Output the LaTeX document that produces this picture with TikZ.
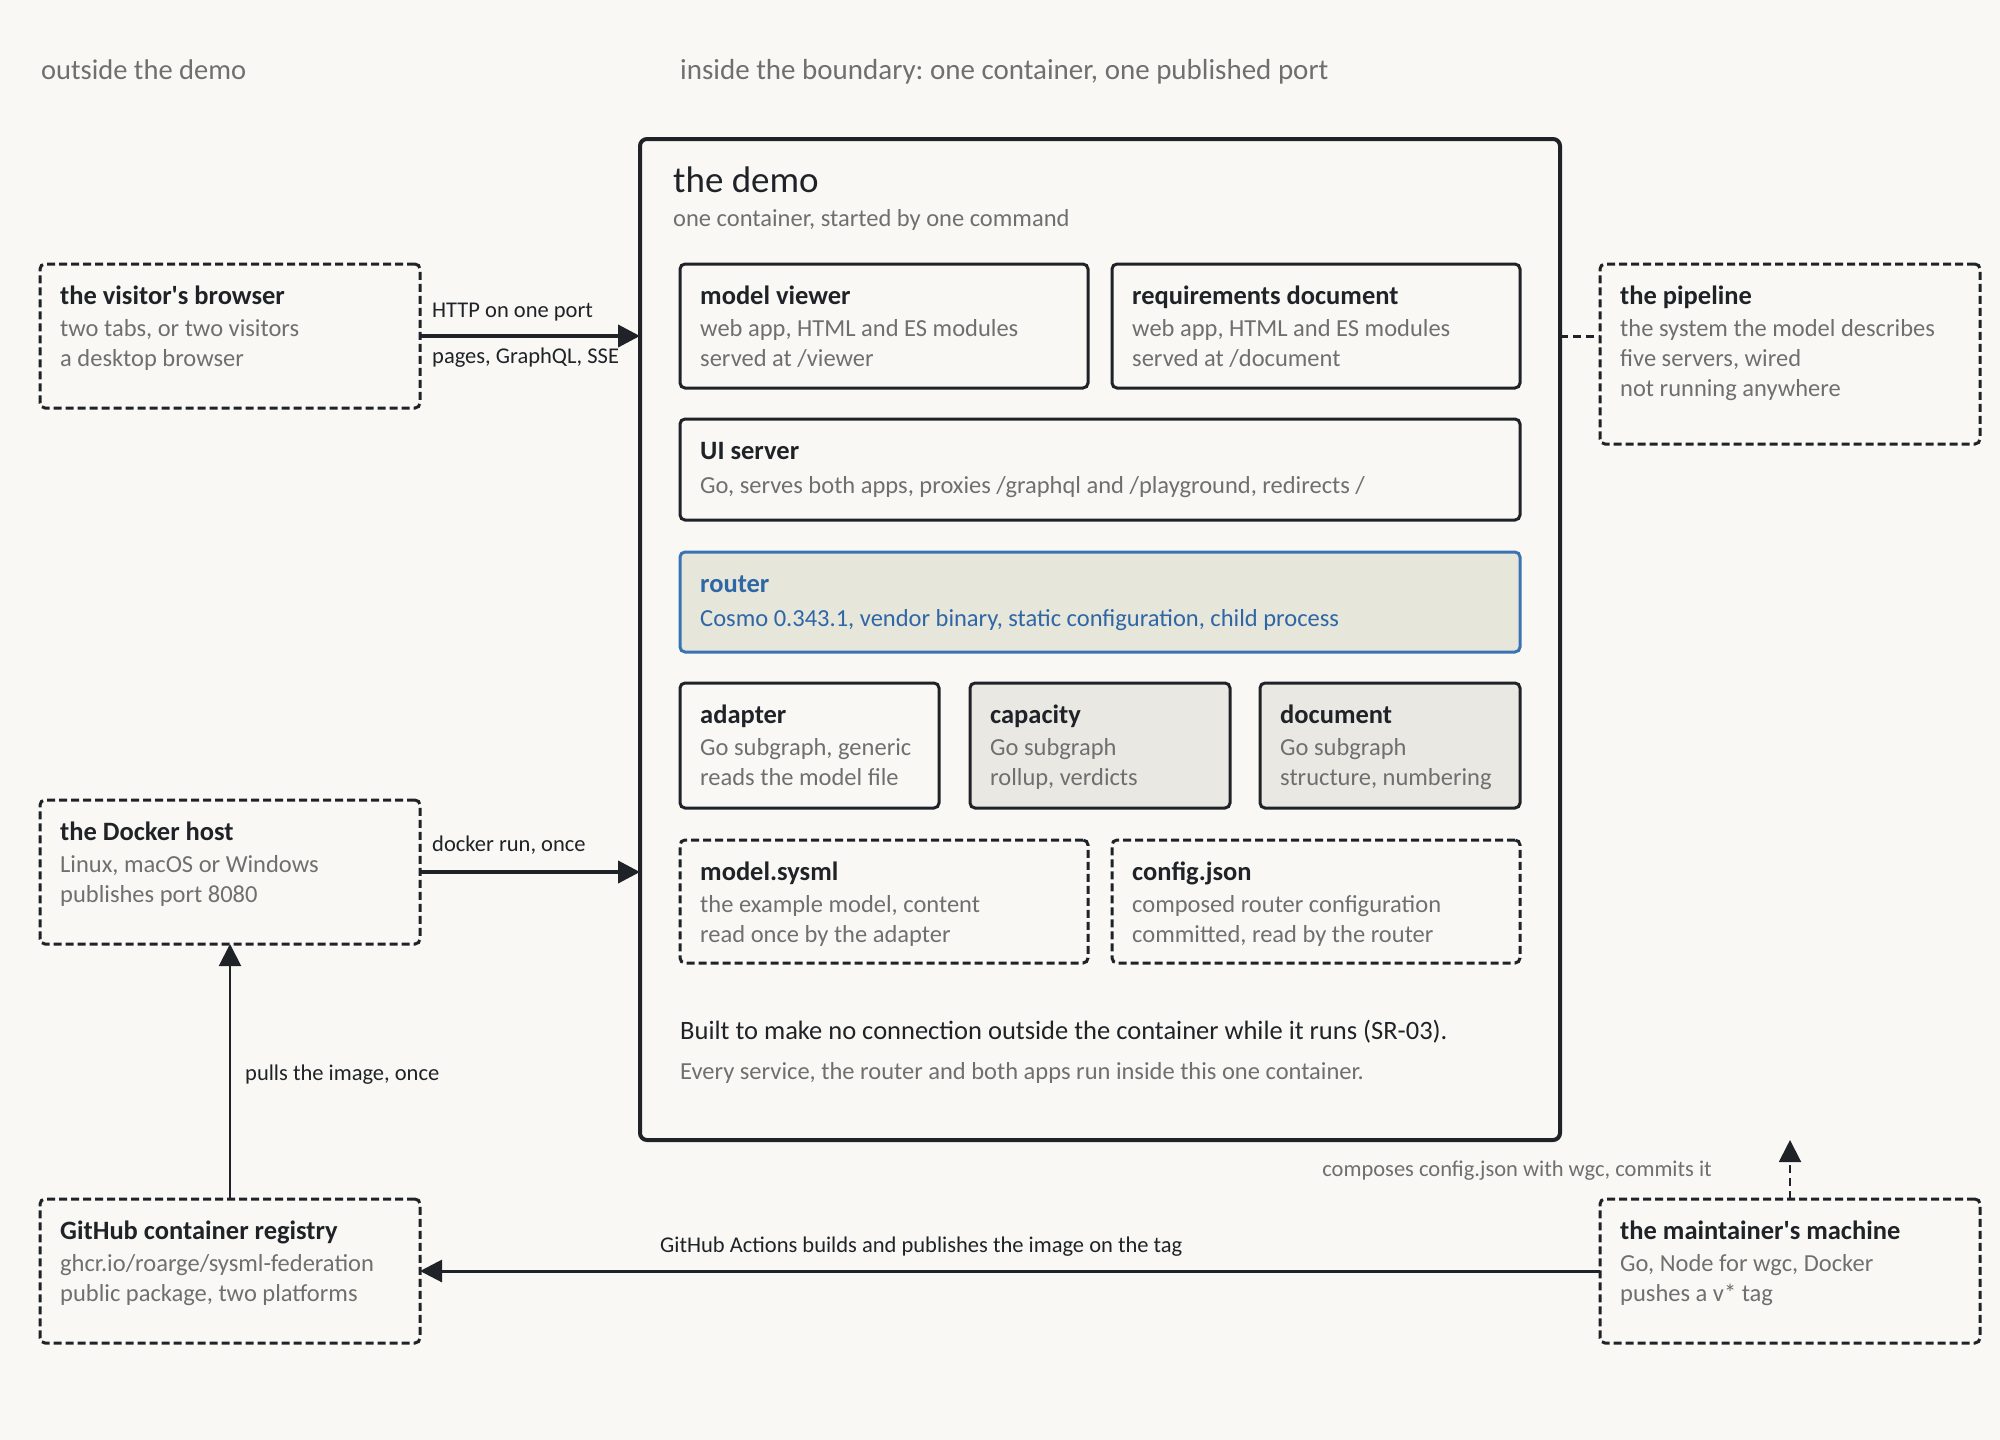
\documentclass[tikz,border=0pt]{standalone}
\usepackage{fontspec}
\setmainfont{Carlito}
\usetikzlibrary{arrows.meta,calc}
\frenchspacing
\definecolor{bg}{HTML}{F9F8F4}
\definecolor{ink}{HTML}{1F2328}
\definecolor{mute}{HTML}{6F6F6F}
\definecolor{rblue}{HTML}{3A73B3}
\definecolor{rtext}{HTML}{2E66A6}
\definecolor{rfill}{HTML}{E6E6DA}
\definecolor{gfill}{HTML}{E9E8E3}
\newcommand\mytitle[2]{\node[ttl] (#1-t) at ([shift={(20,40)}]#1.north west) {#2};}
\newcommand\myline[3]{\node[sub] (#1-#2) at ([shift={(20,#2)}]#1.north west) {#3};}
\begin{document}
\begin{tikzpicture}[x=1pt,y=-1pt,
  frame/.style={rectangle, draw=ink, line width=3pt, rounded corners=5pt, inner sep=0pt, outer sep=0pt, anchor=north west},
  dashbox/.style={frame, dash pattern=on 8pt off 4pt},
  routerbox/.style={frame, draw=rblue, fill=rfill},
  greybox/.style={frame, fill=gfill},
  demobox/.style={frame, line width=4pt, rounded corners=7pt},
  ttl/.style={anchor=base west, font=\fontsize{26.5}{30}\selectfont\bfseries, text=ink, inner sep=0pt},
  sub/.style={anchor=base west, font=\fontsize{24.5}{28}\selectfont, text=mute, inner sep=0pt},
  elab/.style={anchor=base west, font=\fontsize{22.5}{26}\selectfont, text=ink, inner sep=0pt},
  head/.style={anchor=base west, font=\fontsize{29}{34}\selectfont, text=mute, inner sep=0pt},
  arr/.style={draw=ink, line width=4pt, -{Triangle[length=22pt,width=22pt]}},
]
\fill[bg] (0,0) rectangle (2000,1440);
\useasboundingbox (0,0) rectangle (2000,1440);

% headings
\node[head, font=\fontsize{28.5}{34}\selectfont] (hout) at (41,79) {outside the demo};
\node[head] (hin) at (680,79) {inside the boundary: one container, one published port};

% demo frame
\node[demobox, minimum width=920pt, minimum height=1001pt] (demo) at (640,139) {};
\node[anchor=base west, inner sep=0pt, font=\fontsize{37}{42}\selectfont, text=ink] (demo-t) at (673,192) {the demo};
\node[sub] (demo-s) at (673,226) {one container, started by one command};

% inner boxes
\node[frame, minimum width=408pt, minimum height=124pt] (viewer) at (680,264) {};
\mytitle{viewer}{model viewer}
\myline{viewer}{72}{web app, HTML and ES modules}
\myline{viewer}{102}{served at /viewer}

\node[frame, minimum width=408pt, minimum height=124pt] (reqdoc) at (1112,264) {};
\mytitle{reqdoc}{requirements document}
\myline{reqdoc}{72}{web app, HTML and ES modules}
\myline{reqdoc}{102}{served at /document}

\node[frame, minimum width=840pt, minimum height=101pt] (ui) at (680,419) {};
\mytitle{ui}{UI server}
\myline{ui}{74}{Go, serves both apps, proxies /graphql and /playground, redirects /}

\node[routerbox, minimum width=840pt, minimum height=100pt] (router) at (680,552) {};
\node[ttl, text=rtext] (router-t) at ([shift={(20,40)}]router.north west) {router};
\node[sub, text=rtext] (router-a) at ([shift={(20,74)}]router.north west) {Cosmo 0.343.1, vendor binary, static configuration, child process};

\node[frame, minimum width=259pt, minimum height=125pt] (adapter) at (680,683) {};
\mytitle{adapter}{adapter}
\myline{adapter}{72}{Go subgraph, generic}
\myline{adapter}{102}{reads the model file}

\node[greybox, minimum width=260pt, minimum height=125pt] (capacity) at (970,683) {};
\mytitle{capacity}{capacity}
\myline{capacity}{72}{Go subgraph}
\myline{capacity}{102}{rollup, verdicts}

\node[greybox, minimum width=260pt, minimum height=125pt] (document) at (1260,683) {};
\mytitle{document}{document}
\myline{document}{72}{Go subgraph}
\myline{document}{102}{structure, numbering}

\node[dashbox, minimum width=408pt, minimum height=123pt] (model) at (680,840) {};
\mytitle{model}{model.sysml}
\myline{model}{72}{the example model, content}
\myline{model}{102}{read once by the adapter}

\node[dashbox, minimum width=408pt, minimum height=123pt] (config) at (1112,840) {};
\mytitle{config}{config.json}
\myline{config}{72}{composed router configuration}
\myline{config}{102}{committed, read by the router}

\node[anchor=base west, inner sep=0pt, font=\fontsize{26.5}{30}\selectfont, text=ink] (note1) at (680,1039) {Built to make no connection outside the container while it runs (SR-03).};
\node[sub] (note2) at (680,1079) {Every service, the router and both apps run inside this one container.};

% outside boxes
\node[dashbox, minimum width=380pt, minimum height=144pt] (browser) at (40,264) {};
\mytitle{browser}{the visitor\textquotesingle s browser}
\myline{browser}{72}{two tabs, or two visitors}
\myline{browser}{102}{a desktop browser}

\node[dashbox, minimum width=380pt, minimum height=144pt] (docker) at (40,800) {};
\mytitle{docker}{the Docker host}
\myline{docker}{72}{Linux, macOS or Windows}
\myline{docker}{102}{publishes port 8080}

\node[dashbox, minimum width=380pt, minimum height=144pt] (registry) at (40,1199) {};
\mytitle{registry}{GitHub container registry}
\myline{registry}{72}{ghcr.io/roarge/sysml-federation}
\myline{registry}{102}{public package, two platforms}

\node[dashbox, minimum width=380pt, minimum height=180pt] (pipeline) at (1600,264) {};
\mytitle{pipeline}{the pipeline}
\myline{pipeline}{72}{the system the model describes}
\myline{pipeline}{102}{five servers, wired}
\myline{pipeline}{132}{not running anywhere}

\node[dashbox, minimum width=380pt, minimum height=144pt] (maint) at (1600,1199) {};
\mytitle{maint}{the maintainer\textquotesingle s machine}
\myline{maint}{72}{Go, Node for wgc, Docker}
\myline{maint}{102}{pushes a v* tag}

% connectors
\draw[arr] (browser.east) -- (browser.east -| demo.west);
\node[elab] (l-http) at (432,317) {HTTP on one port};
\node[elab] (l-pages) at (432,363) {pages, GraphQL, SSE};

\draw[arr] (docker.east) -- (docker.east -| demo.west);
\node[elab] (l-run) at (432,851) {docker run, once};

\draw[arr, line width=2pt] (registry.north) -- (docker.south);
\node[elab] (l-pull) at (245,1080) {pulls the image, once};

\draw[arr, line width=3pt] (maint.west) -- (registry.east);
\node[elab] (l-gha) at (660,1252) {GitHub Actions builds and publishes the image on the tag};

\draw[arr, line width=2pt, dash pattern=on 8pt off 5pt] (maint.north) -- (maint.north |- demo.south);
\node[elab, anchor=base east, text=mute] (l-wgc) at (1712,1176) {composes config.json with wgc, commits it};

\draw[draw=ink, line width=3pt, dash pattern=on 8pt off 5pt] (demo.east |- browser.east) -- (pipeline.west |- browser.east);
\end{tikzpicture}
\end{document}
